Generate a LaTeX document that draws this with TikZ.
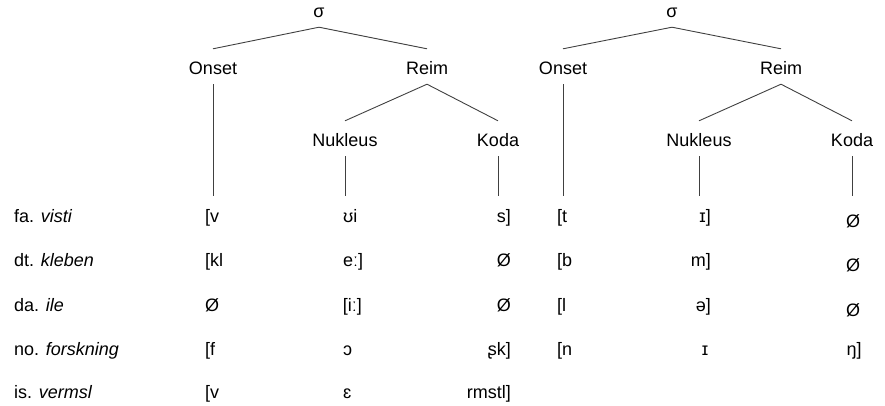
\documentclass[tikz,border=0pt]{standalone}
\usepackage{fontspec}
\setmainfont{Liberation Sans}

\begin{document}
\begin{tikzpicture}[
x=1pt, y=-1pt,
every node/.style={font=\fontsize{18}{20}\selectfont},
cat/.style={text height=22pt, text depth=7pt, inner ysep=3pt, inner xsep=0pt},
seg/.style={inner sep=0pt},
branch/.style={draw=black!75, line width=0.9pt}
]
\useasboundingbox (0,0) rectangle (885,405);

% lower end of the vertical branches
\coordinate (foot) at (0,196);

% left syllable tree
\node[cat] (sig1) at (319,9.5) {σ};
\node[cat] (ons1) at (213,66.5) {Onset};
\node[cat] (rim1) at (427,66.5) {Reim};
\node[cat] (nuk1) at (345,138.5) {Nukleus};
\node[cat] (kod1) at (498,138.5) {Koda};

\draw[branch] (sig1.south) -- (ons1.north);
\draw[branch] (sig1.south) -- (rim1.north);
\draw[branch] (rim1.south) -- (nuk1.north);
\draw[branch] (rim1.south) -- (kod1.north);
\draw[branch] (ons1.south) -- (ons1.south |- foot);
\draw[branch] (nuk1.south) -- (nuk1.south |- foot);
\draw[branch] (kod1.south) -- (kod1.south |- foot);

% right syllable tree
\node[cat] (sig2) at (672,9.5) {σ};
\node[cat] (ons2) at (563,66.5) {Onset};
\node[cat] (rim2) at (781,66.5) {Reim};
\node[cat] (nuk2) at (699,138.5) {Nukleus};
\node[cat] (kod2) at (852,138.5) {Koda};

\draw[branch] (sig2.south) -- (ons2.north);
\draw[branch] (sig2.south) -- (rim2.north);
\draw[branch] (rim2.south) -- (nuk2.north);
\draw[branch] (rim2.south) -- (kod2.north);
\draw[branch] (ons2.south) -- (ons2.south |- foot);
\draw[branch] (nuk2.south) -- (nuk2.south |- foot);
\draw[branch] (kod2.south) -- (kod2.south |- foot);

% example words
\node[seg, anchor=base west] (lab1) at (14,222) {fa. \textit{visti}};
\node[seg, anchor=base west] (lab2) at (14,266) {dt. \textit{kleben}};
\node[seg, anchor=base west] (lab3) at (14,311) {da. \textit{ile}};
\node[seg, anchor=base west] (lab4) at (14,355) {no. \textit{forskning}};
\node[seg, anchor=base west] (lab5) at (14,398) {is. \textit{vermsl}};

% fa. visti
\node[seg, anchor=base west] (ona1) at (205,222) {[v};
\node[seg, anchor=base west] (nua1) at (343,222) {ʊi};
\node[seg, anchor=base east] (koa1) at (511,222) {s]};
\node[seg, anchor=base west] (onb1) at (557,222) {[t};
\node[seg, anchor=base east] (nub1) at (711,222) {ɪ]};
\node[seg, anchor=base] (kob1) at (853,227) {Ø};

% dt. kleben
\node[seg, anchor=base west] (ona2) at (205,266) {[kl};
\node[seg, anchor=base west] (nua2) at (343,266) {eː]};
\node[seg, anchor=base east] (koa2) at (511,266) {Ø};
\node[seg, anchor=base west] (onb2) at (557,266) {[b};
\node[seg, anchor=base east] (nub2) at (711,266) {m]};
\node[seg, anchor=base] (kob2) at (853,271) {Ø};

% da. ile
\node[seg, anchor=base west] (ona3) at (205,311) {Ø};
\node[seg, anchor=base east] (nua3) at (362,311) {[iː]};
\node[seg, anchor=base east] (koa3) at (511,311) {Ø};
\node[seg, anchor=base west] (onb3) at (557,311) {[l};
\node[seg, anchor=base east] (nub3) at (711,311) {ə]};
\node[seg, anchor=base] (kob3) at (853,316) {Ø};

% no. forskning
\node[seg, anchor=base west] (ona4) at (205,355) {[f};
\node[seg, anchor=base west] (nua4) at (343,355) {ɔ};
\node[seg, anchor=base east] (koa4) at (511,355) {ʂk]};
\node[seg, anchor=base west] (onb4) at (557,355) {[n};
\node[seg, anchor=base] (nub4) at (705,355) {ɪ};
\node[seg, anchor=base] (kob4) at (854,355) {ŋ]};

% is. vermsl
\node[seg, anchor=base west] (ona5) at (205,398) {[v};
\node[seg, anchor=base west] (nua5) at (343,398) {ɛ};
\node[seg, anchor=base east] (koa5) at (511,398) {rmstl]};

\end{tikzpicture}
\end{document}
